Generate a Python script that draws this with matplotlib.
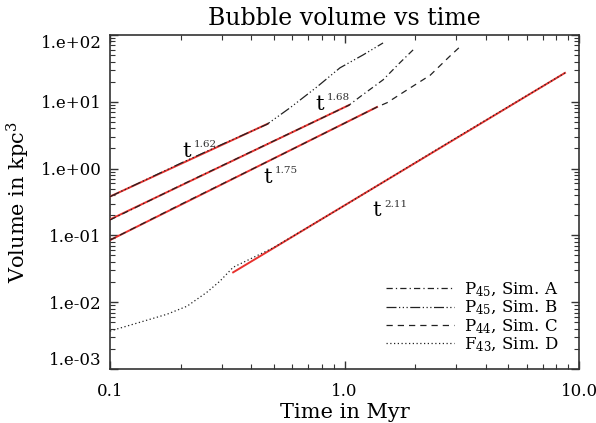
import numpy as np
import matplotlib
matplotlib.use('Agg')
import matplotlib.pyplot as plt
from matplotlib.ticker import FixedLocator, LogLocator, NullFormatter

plt.rcParams['font.family'] = 'DejaVu Serif'
plt.rcParams['mathtext.fontset'] = 'dejavuserif'

# black curves (time in Myr, volume in kpc^3)
t_A = [0.1, 0.2, 0.5, 1.045, 1.165, 1.46, 1.72, 2.0]
v_A = [0.17, 0.56, 2.6, 8.9, 11.9, 21.3, 38.2, 64.0]

t_B = [0.1, 0.2, 0.3, 0.467, 0.585, 0.763, 0.956, 1.20, 1.46]
v_B = [0.38, 1.2, 2.3, 4.6, 8.1, 16.7, 32.2, 50.3, 76.0]

t_C = [0.1, 0.2, 0.5, 1.376, 1.52, 1.85, 2.32, 2.81, 3.17]
v_C = [0.085, 0.29, 1.42, 8.35, 9.7, 15.1, 25.0, 48.0, 71.0]

t_D = [0.1, 0.134, 0.175, 0.213, 0.259, 0.294, 0.335, 0.5, 1.0, 3.0, 8.7]
v_D = [0.0037, 0.005, 0.0066, 0.0087, 0.0141, 0.0206, 0.0333, 0.066, 0.28, 2.9, 27.0]

# power law fits V = amp * t^p over [t0, t1]
fit_p = [1.62, 1.68, 1.75, 2.11]
fit_amp = [15.9, 8.29, 4.78, 0.281]
fit_t0 = [0.1, 0.1, 0.1, 0.335]
fit_t1 = [0.47, 1.045, 1.376, 8.71]
# where the t^p labels sit
lab_t = [0.203, 0.749, 0.449, 1.31]
lab_v = [1.51, 7.6, 0.618, 0.192]

labels = [r'P$_{45}$, Sim. A', r'P$_{45}$, Sim. B', r'P$_{44}$, Sim. C', r'F$_{43}$, Sim. D']
yticks = [1e-3, 1e-2, 1e-1, 1e0, 1e1, 1e2]
ytick_labels = ['1.e-03', '1.e-02', '1.e-01', '1.e+00', '1.e+01', '1.e+02']
xticks = [0.1, 1.0, 10.0]
xtick_labels = ['0.1', '1.0', '10.0']

fig = plt.figure(figsize=(5.96, 4.23), dpi=100)
ax = fig.add_axes([0.1846, 0.1277, 0.7869, 0.7896])

ax.plot(t_A, v_A, color='#222222', lw=0.9, ls=(0, (5, 2.5, 1, 2.5)), label=labels[0], zorder=4)
ax.plot(t_B, v_B, color='#222222', lw=0.9, ls=(0, (8, 2, 1, 2, 1, 2, 1, 2)), label=labels[1], zorder=4)
ax.plot(t_C, v_C, color='#222222', lw=0.9, ls=(0, (5, 4)), label=labels[2], zorder=4)
ax.plot(t_D, v_D, color='#222222', lw=0.9, ls=(0, (1, 2)), label=labels[3], zorder=4)

for p, a, t0, t1, lt, lv in zip(fit_p, fit_amp, fit_t0, fit_t1, lab_t, lab_v):
    tt = np.array([t0, t1])
    ax.plot(tt, a * tt**p, color='#e8322e', lw=1.4, zorder=3)
    ax.text(lt, lv, 't', fontsize=15, ha='left', va='baseline')
    ax.annotate('%.2f' % p, xy=(lt, lv), xytext=(8.5, 7), textcoords='offset points',
                fontsize=7.5, ha='left', va='baseline', color='#333333')

ax.set_xscale('log')
ax.set_yscale('log')
ax.set_xlim(0.1, 10.0)
ax.set_ylim(1e-3, 1e2)

ax.xaxis.set_major_locator(FixedLocator(xticks))
ax.set_xticklabels(xtick_labels)
ax.yaxis.set_major_locator(FixedLocator(yticks))
ax.set_yticklabels(ytick_labels)
ax.xaxis.set_minor_locator(LogLocator(subs=np.arange(2, 10)))
ax.yaxis.set_minor_locator(LogLocator(subs=np.arange(2, 10)))
ax.xaxis.set_minor_formatter(NullFormatter())
ax.yaxis.set_minor_formatter(NullFormatter())

ax.tick_params(which='both', direction='in', top=True, right=True, colors='#333333',
               labelcolor='black', labelsize=12)
ax.tick_params(which='major', length=6, width=1)
ax.tick_params(which='minor', length=3.5, width=0.8)
ax.tick_params(axis='x', pad=10)
ax.tick_params(axis='y', pad=6)
ytl = ax.get_yticklabels()
ytl[0].set_va('bottom')
ytl[-1].set_va('top')
for s in ax.spines.values():
    s.set_color('#333333')
    s.set_linewidth(1.2)

ax.set_title('Bubble volume vs time', fontsize=17, pad=7)
ax.set_xlabel('Time in Myr', fontsize=15, labelpad=2)
ax.set_ylabel(r'Volume in kpc$^3$', fontsize=15, labelpad=6)

ax.legend(loc='lower right', bbox_to_anchor=(0.957, 0.045), frameon=False, fontsize=12,
          handlelength=4.1, handletextpad=0.6, labelspacing=0.0, borderpad=0, borderaxespad=0)

fig.savefig('out.png', dpi=100)
